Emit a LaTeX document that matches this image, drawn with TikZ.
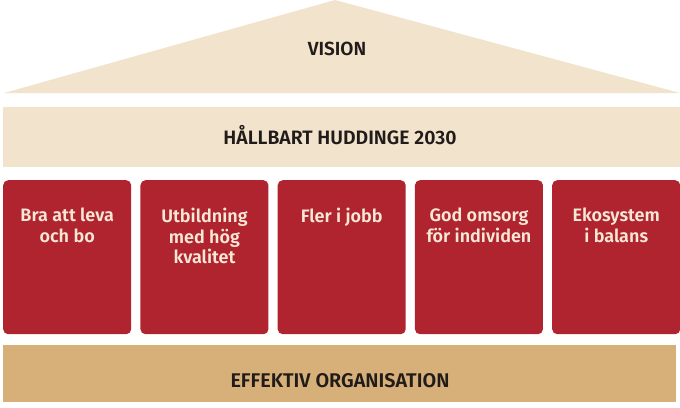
\documentclass[tikz,border=0pt]{standalone}
\usepackage{fontspec}
\setmainfont{Fira Sans}[BoldFont={Fira Sans SemiBold}]
\definecolor{roofbeige}{rgb}{0.95,0.89,0.80}
\definecolor{pillarred}{rgb}{0.69,0.14,0.19}
\definecolor{basetan}{rgb}{0.84,0.69,0.47}
\definecolor{creamtxt}{rgb}{0.97,0.91,0.84}
\definecolor{darktxt}{rgb}{0.13,0.11,0.10}

\begin{document}
\begin{tikzpicture}[x=1pt,y=-1pt,node font=\bfseries,
	pillar/.style={fill=pillarred,rounded corners=5pt,minimum width=128pt,minimum height=154pt,anchor=north west,inner sep=0pt},
	pillartext/.style={text=creamtxt,align=center,anchor=north,inner sep=0pt,font=\fontsize{18}{20.5}\selectfont},
	bandtext/.style={text=darktxt,anchor=base,inner sep=0pt,font=\fontsize{19.4}{22}\selectfont}]
			\useasboundingbox (0,0) rectangle (680,407);
			% roof
			\fill [roofbeige] (4,93)-- (335,0)-- (680,93)-- cycle;
			\node [bandtext,font=\fontsize{19}{22}\selectfont] (vision) at (337,55) {VISION};
			% band
			\fill [roofbeige] (3,107) rectangle (680,167);
			\node [bandtext] (hallbart) at (340,144) {HÅLLBART HUDDINGE 2030};
			% pillars
			\foreach \i/\txt in {1/{Bra att leva\\och bo},2/{Utbildning\\med hög\\kvalitet},3/{Fler i jobb},4/{God omsorg\\för individen},5/{Ekosystem\\i balans}}{
				\node [pillar] (p\i) at ({3+137.25*(\i-1)},180) {};
				\node [pillartext] (t\i) at ([yshift=-28pt]p\i.north) {\txt};
			}
			% base
			\fill [basetan] (3,345) rectangle (676,402);
			\node [bandtext,font=\fontsize{19.8}{22}\selectfont] (effektiv) at (340,387) {EFFEKTIV ORGANISATION};
		\end{tikzpicture}
\end{document}
